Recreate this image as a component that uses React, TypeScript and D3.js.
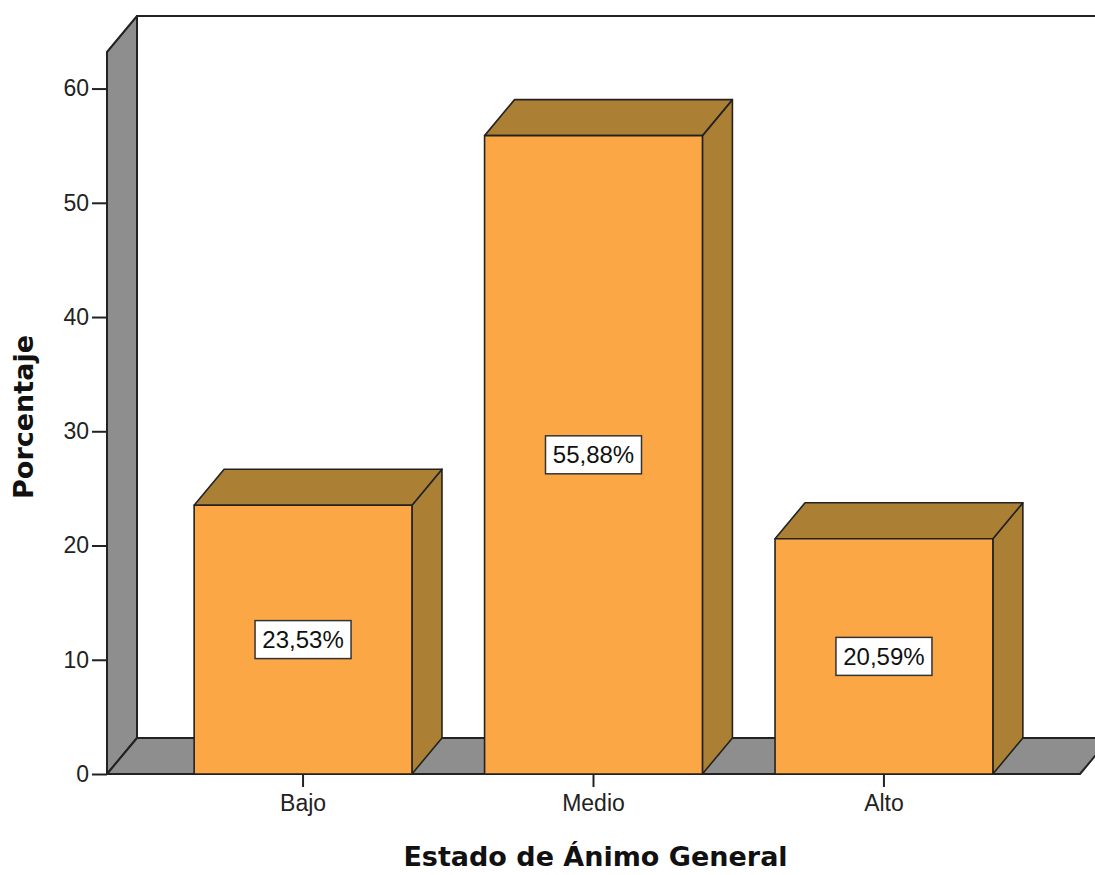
import { useEffect, useRef } from "react";
import * as d3 from "d3";

// Estado de Ánimo General – porcentaje por categoría
const categories = ["Bajo", "Medio", "Alto"];
const percentages = [23.53, 55.88, 20.59];
const yTicks = [0, 10, 20, 30, 40, 50, 60];

const W = 1095;
const H = 875;
const FRONT_FILL = "#fca745";
const TOP_FILL = "#ac8034";
const WALL_FILL = "#8e8e8e";
const EDGE = "#222";

export default function App() {
  const ref = useRef<SVGSVGElement | null>(null);

  useEffect(() => {
    const el = ref.current;
    if (!el) return;
    const svg = d3.select(el);
    svg.selectAll("*").remove();

    // front plane of the 3d box
    const left = 107;
    const right = 1080;
    const base = 774;
    const dx = 30;
    const dy = -36;

    const y = d3.scaleLinear().domain([0, 63.2]).range([base, 52]);
    const x = d3
      .scaleBand<string>()
      .domain(categories)
      .range([left, right])
      .paddingInner(0.25)
      .paddingOuter(0.3);

    const top = y(63.2);
    const line = (pts: [number, number][]) => "M" + pts.map((p) => p.join(",")).join("L") + "Z";

    // back wall
    svg.append("path")
      .attr("d", line([[left + dx, top + dy], [right + dx + 40, top + dy], [right + dx + 40, base + dy], [left + dx, base + dy]]))
      .attr("fill", "#fff")
      .attr("stroke", EDGE)
      .attr("stroke-width", 2);

    // left wall
    svg.append("path")
      .attr("d", line([[left, base], [left, top], [left + dx, top + dy], [left + dx, base + dy]]))
      .attr("fill", WALL_FILL)
      .attr("stroke", EDGE)
      .attr("stroke-width", 2)
      .attr("stroke-linejoin", "round");

    // floor
    svg.append("path")
      .attr("d", line([[left, base], [left + dx, base + dy], [right + dx, base + dy], [right, base]]))
      .attr("fill", WALL_FILL)
      .attr("stroke", EDGE)
      .attr("stroke-width", 2)
      .attr("stroke-linejoin", "round");

    // bars
    const bars = svg.append("g");
    categories.forEach((c, i) => {
      const x0 = x(c)!;
      const x1 = x0 + x.bandwidth();
      const yt = y(percentages[i]);
      const g = bars.append("g").attr("stroke", EDGE).attr("stroke-width", 1.6).attr("stroke-linejoin", "round");
      g.append("path")
        .attr("d", line([[x1, yt], [x1 + dx, yt + dy], [x1 + dx, base + dy], [x1, base]]))
        .attr("fill", TOP_FILL);
      g.append("path")
        .attr("d", line([[x0, yt], [x0 + dx, yt + dy], [x1 + dx, yt + dy], [x1, yt]]))
        .attr("fill", TOP_FILL);
      g.append("rect")
        .attr("x", x0)
        .attr("y", yt)
        .attr("width", x1 - x0)
        .attr("height", base - yt)
        .attr("fill", FRONT_FILL);

      const cx = x0 + x.bandwidth() / 2;
      const cy = (yt + base) / 2;
      const txt = percentages[i].toFixed(2).replace(".", ",") + "%";
      bars.append("rect")
        .attr("x", cx - 48)
        .attr("y", cy - 19)
        .attr("width", 96)
        .attr("height", 38)
        .attr("fill", "#fff")
        .attr("stroke", "#333")
        .attr("stroke-width", 1.5);
      bars.append("text")
        .attr("x", cx)
        .attr("y", cy)
        .attr("dy", "0.36em")
        .attr("text-anchor", "middle")
        .attr("font-family", "'Liberation Sans', Arial, sans-serif")
        .attr("font-size", 24)
        .attr("fill", "#111")
        .text(txt);
    });

    // y axis
    const yAxis = svg.append("g")
      .attr("transform", `translate(${left},0)`)
      .call(d3.axisLeft(y).tickValues(yTicks).tickSize(15).tickPadding(3).tickFormat((d) => String(d)));
    yAxis.select(".domain").remove();
    yAxis.selectAll(".tick line").attr("stroke", EDGE).attr("stroke-width", 2);
    yAxis.selectAll(".tick text")
      .attr("font-family", "'Liberation Sans', Arial, sans-serif")
      .attr("font-size", 23)
      .attr("fill", "#222");

    // x axis
    const xAxis = svg.append("g")
      .attr("transform", `translate(0,${base})`)
      .call(d3.axisBottom(x).tickSize(13).tickPadding(8));
    xAxis.select(".domain").remove();
    xAxis.selectAll(".tick line").attr("stroke", EDGE).attr("stroke-width", 2);
    xAxis.selectAll(".tick text")
      .attr("font-family", "'Liberation Sans', Arial, sans-serif")
      .attr("font-size", 23)
      .attr("fill", "#222");

    // axis titles
    svg.append("text")
      .attr("x", (left + right) / 2 + 2)
      .attr("y", 866)
      .attr("text-anchor", "middle")
      .attr("font-family", "'DejaVu Sans', Verdana, sans-serif")
      .attr("font-weight", 700)
      .attr("font-size", 27)
      .attr("fill", "#111")
      .text("Estado de Ánimo General");

    svg.append("text")
      .attr("transform", "translate(33,417) rotate(-90)")
      .attr("text-anchor", "middle")
      .attr("font-family", "'DejaVu Sans', Verdana, sans-serif")
      .attr("font-weight", 700)
      .attr("font-size", 27)
      .attr("fill", "#111")
      .text("Porcentaje");
  }, []);

  return (
    <svg
      ref={ref}
      width={W}
      height={H}
      viewBox={`0 0 ${W} ${H}`}
      style={{ position: "absolute", left: 0, top: 0, background: "#fff", overflow: "hidden" }}
    />
  );
}
